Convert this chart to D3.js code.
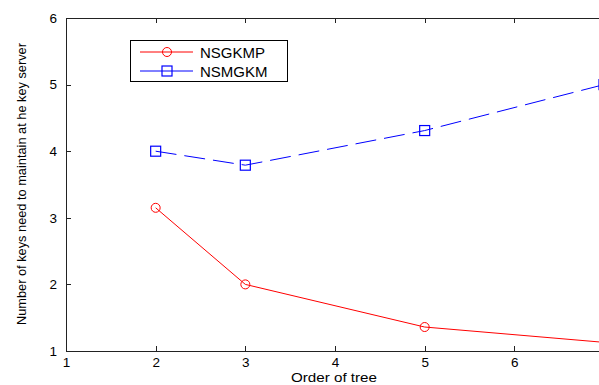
<!DOCTYPE html>
<html>
<head>
<meta charset="utf-8">
<script src="https://cdn.jsdelivr.net/npm/d3@7"></script>
<style>
  body { margin: 0; background: #fff; }
  svg { display: block; font-family: "Liberation Sans", Arial, sans-serif; }
</style>
</head>
<body>
<div id="chart"></div>
<script>
// data
const treeOrder = [2, 3, 5, 7]
const nsgkmp = [3.15, 2.0, 1.36, 1.13]
const nsmgkm = [4.0, 3.79, 4.31, 5.0]
const xTicks = [1, 2, 3, 4, 5, 6, 7]
const xTickLabels = [1, 2, 3, 4, 5, 6] // the 7 falls past the window edge
const yTicks = [1, 2, 3, 4, 5, 6]

const width = 599
const height = 385
const margin = { top: 18, right: -5, bottom: 34, left: 66 }

const svg = d3.select('#chart')
  .append('svg')
  .attr('width', width)
  .attr('height', height)

const x = d3.scaleLinear()
  .domain([1, 7])
  .range([margin.left, width - margin.right])

const y = d3.scaleLinear()
  .domain([1, 6])
  .range([height - margin.bottom, margin.top])

const tickLen = 5
const axisColor = '#222'

// bottom axis with labels, ticks pointing inward
svg.append('g')
  .attr('transform', `translate(0, ${y(1)})`)
  .call(d3.axisBottom(x).tickValues(xTickLabels).tickFormat(d3.format('d'))
    .tickSizeInner(-tickLen).tickSizeOuter(0).tickPadding(6.5))
  .call(g => g.selectAll('text').attr('font-size', 13.5).attr('fill', '#000'))

// left axis with labels
svg.append('g')
  .attr('transform', `translate(${x(1)}, 0)`)
  .call(d3.axisLeft(y).tickValues(yTicks).tickFormat(d3.format('d'))
    .tickSizeInner(-tickLen).tickSizeOuter(0).tickPadding(9))
  .call(g => g.selectAll('text').attr('font-size', 13.5).attr('fill', '#000'))

// top and right axes, ticks only
svg.append('g')
  .attr('transform', `translate(0, ${y(6)})`)
  .call(d3.axisTop(x).tickValues(xTicks).tickFormat('')
    .tickSizeInner(-tickLen).tickSizeOuter(0))

svg.append('g')
  .attr('transform', `translate(${x(7)}, 0)`)
  .call(d3.axisRight(y).tickValues(yTicks).tickFormat('')
    .tickSizeInner(-tickLen).tickSizeOuter(0))

svg.selectAll('.domain, .tick line')
  .attr('stroke', axisColor)
  .attr('stroke-width', 1.2)
  .attr('shape-rendering', 'crispEdges')

// axis titles
svg.append('text')
  .attr('x', 334)
  .attr('y', 382)
  .attr('text-anchor', 'middle')
  .attr('font-size', 12.5)
  .attr('textLength', 86)
  .attr('lengthAdjust', 'spacingAndGlyphs')
  .text('Order of tree')

svg.append('text')
  .attr('transform', `translate(26, ${(43 + 325) / 2}) rotate(-90)`)
  .attr('text-anchor', 'middle')
  .attr('font-size', 12.5)
  .attr('textLength', 282)
  .attr('lengthAdjust', 'spacingAndGlyphs')
  .text('Number of keys need to maintain at he key server')

const line = d3.line()
  .x((d, i) => x(treeOrder[i]))
  .y(d => y(d))

const plot = svg.append('g')

// NSGKMP: solid red with circles
plot.append('path')
  .datum(nsgkmp)
  .attr('d', line)
  .attr('fill', 'none')
  .attr('stroke', '#ff0000')
  .attr('stroke-width', 1)

plot.selectAll('.pt-red')
  .data(nsgkmp)
  .join('circle')
  .attr('class', 'pt-red')
  .attr('cx', (d, i) => x(treeOrder[i]))
  .attr('cy', d => y(d))
  .attr('r', 4.5)
  .attr('fill', 'none')
  .attr('stroke', '#ff0000')
  .attr('stroke-width', 1)

// NSMGKM: dashed blue with squares
plot.append('path')
  .datum(nsmgkm)
  .attr('d', line)
  .attr('fill', 'none')
  .attr('stroke', '#0000ff')
  .attr('stroke-width', 1)
  .attr('stroke-dasharray', '21,8')

const sq = 10
plot.selectAll('.pt-blue')
  .data(nsmgkm)
  .join('rect')
  .attr('class', 'pt-blue')
  .attr('x', (d, i) => x(treeOrder[i]) - sq / 2)
  .attr('y', d => y(d) - sq / 2)
  .attr('width', sq)
  .attr('height', sq)
  .attr('fill', 'none')
  .attr('stroke', '#0000ff')
  .attr('stroke-width', 1.2)

// legend
const legend = svg.append('g').attr('transform', 'translate(130, 40)')

legend.append('rect')
  .attr('width', 157)
  .attr('height', 41)
  .attr('fill', '#fff')
  .attr('stroke', '#000')
  .attr('stroke-width', 1)
  .attr('shape-rendering', 'crispEdges')

const legendItems = [
  { label: 'NSGKMP', color: '#ff0000', shape: 'circle' },
  { label: 'NSMGKM', color: '#0000ff', shape: 'square' }
]

const item = legend.selectAll('.legend-item')
  .data(legendItems)
  .join('g')
  .attr('class', 'legend-item')
  .attr('transform', (d, i) => `translate(0, ${12 + i * 19})`)

item.append('line')
  .attr('x1', 10)
  .attr('x2', 63)
  .attr('stroke', d => d.color)
  .attr('stroke-width', 1)

item.filter(d => d.shape === 'circle')
  .append('circle')
  .attr('cx', 37)
  .attr('r', 4.5)
  .attr('fill', 'none')
  .attr('stroke', d => d.color)

item.filter(d => d.shape === 'square')
  .append('rect')
  .attr('x', 37 - sq / 2)
  .attr('y', -sq / 2)
  .attr('width', sq)
  .attr('height', sq)
  .attr('fill', 'none')
  .attr('stroke', d => d.color)
  .attr('stroke-width', 1.2)

item.append('text')
  .attr('x', 70)
  .attr('y', 5.5)
  .attr('font-size', 15)
  .text(d => d.label)
</script>
</body>
</html>
